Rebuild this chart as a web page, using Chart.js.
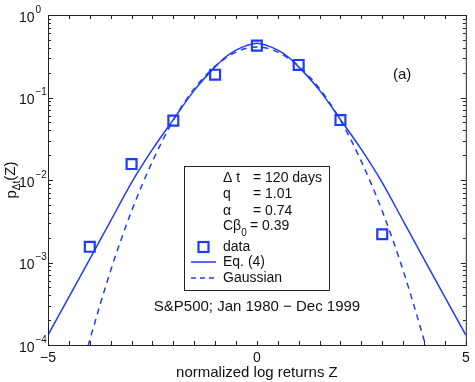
<!DOCTYPE html>
<html>
<head>
<meta charset="utf-8">
<script src="https://cdn.jsdelivr.net/npm/chart.js@4/dist/chart.umd.min.js"></script>
<style>
    html, body { margin: 0; padding: 0; background: #fff; }
    #wrap { position: relative; width: 475px; height: 382px; }
</style>
</head>
<body>
<div id="wrap"><canvas id="chart" width="475" height="382"></canvas></div>
<script>
// data points (squares)
const dataZ = [-4, -3, -2, -1, 0, 1, 2, 3];
const dataP = [1.55e-3, 0.0156, 0.0524, 0.189, 0.425, 0.248, 0.0533, 0.0022];

// Eq. (4) curve
const eqZ = [-5, -4.5, -4, -3.5, -3, -2.5, -2, -1.5, -1, -0.75, -0.5, -0.25, 0,
             0.25, 0.5, 0.75, 1, 1.5, 2, 2.5, 3, 3.5, 4, 4.5, 5];
const eqP = [1.32e-4, 3.8e-4, 1.1e-3, 3.2e-3, 9.3e-3, 0.0235, 0.054, 0.122, 0.235, 0.31, 0.375, 0.425, 0.455,
             0.425, 0.375, 0.31, 0.235, 0.122, 0.054, 0.0235, 9.3e-3, 3.2e-3, 1.1e-3, 3.8e-4, 1.32e-4];

// Gaussian curve
const gaussZ = [-4.25, -4, -3.5, -3, -2.5, -2, -1.5, -1, -0.75, -0.5, -0.25, 0,
                0.25, 0.5, 0.75, 1, 1.5, 2, 2.5, 3, 3.5, 4, 4.25];
const gaussP = [4e-5, 1.15e-4, 8.0e-4, 4.2e-3, 0.0168, 0.053, 0.128, 0.24, 0.30, 0.355, 0.395, 0.41,
                0.395, 0.355, 0.30, 0.24, 0.128, 0.053, 0.0168, 4.2e-3, 8.0e-4, 1.15e-4, 4e-5];

// axis ticks
const xTickLabels = [-5, 0, 5];
const yDecades = [-4, -3, -2, -1, 0];

// text box
const boxLines = [['Δ t', '= 120 days'], ['q', '= 1.01'], ['α', '= 0.74'], ['Cβ', '= 0.39']];
const seriesNames = ['data', 'Eq. (4)', 'Gaussian'];

const BLUE = 'rgb(30, 60, 255)';
const FONT = '"Liberation Sans", Arial, Helvetica, sans-serif';

function toPoints(xs, ys) {
    return xs.map((x, i) => ({ x: x, y: ys[i] }));
}

function minus(v) {
    return String(v).replace('-', '\u2212');
}

// 边框、刻度、文字
const decorPlugin = {
    id: 'decor',
    afterDraw(chart) {
        const ctx = chart.ctx;
        const { left, right, top, bottom } = chart.chartArea;
        const xs = chart.scales.x;
        const ys = chart.scales.y;
        ctx.save();

        // frame
        ctx.strokeStyle = '#222';
        ctx.lineWidth = 1;
        ctx.strokeRect(left + 0.5, top + 0.5, right - left, bottom - top);

        // x ticks, inward, top and bottom
        ctx.beginPath();
        for (let v = -5; v <= 5; v += 0.5) {
            const px = Math.round(xs.getPixelForValue(v)) + 0.5;
            ctx.moveTo(px, bottom); ctx.lineTo(px, bottom - 4);
            ctx.moveTo(px, top); ctx.lineTo(px, top + 4);
        }
        // y ticks, log
        yDecades.forEach(d => {
            for (let k = 1; k <= 9; k++) {
                if (d === 0 && k > 1) break;
                const py = Math.round(ys.getPixelForValue(k * Math.pow(10, d))) + 0.5;
                const len = k === 1 ? 5 : 3;
                ctx.moveTo(left, py); ctx.lineTo(left + len, py);
                ctx.moveTo(right, py); ctx.lineTo(right - len, py);
            }
        });
        ctx.stroke();

        // y tick labels 10^n
        ctx.fillStyle = '#111';
        ctx.textBaseline = 'middle';
        yDecades.forEach(d => {
            const py = ys.getPixelForValue(Math.pow(10, d));
            ctx.font = '14px ' + FONT;
            ctx.textAlign = 'right';
            ctx.fillText('10', 34.5, py + 3);
            ctx.font = '10px ' + FONT;
            ctx.textAlign = 'left';
            ctx.fillText(minus(d), 35.5, py - 5);
        });

        // y title p_Δt(Z)
        ctx.save();
        ctx.translate(13, (top + bottom) / 2);
        ctx.rotate(-Math.PI / 2);
        ctx.textAlign = 'left';
        ctx.font = '15px ' + FONT;
        const wP = ctx.measureText('p').width;
        const wZ = ctx.measureText('(Z)').width;
        ctx.font = '10px ' + FONT;
        const wSub = ctx.measureText('Δt').width;
        let tx = -(wP + wSub + wZ) / 2;
        ctx.font = '15px ' + FONT;
        ctx.fillText('p', tx, -1);
        tx += wP;
        ctx.font = '10px ' + FONT;
        ctx.fillText('Δt', tx, 4);
        tx += wSub;
        ctx.font = '15px ' + FONT;
        ctx.fillText('(Z)', tx, -2);
        ctx.restore();

        // panel label and caption
        ctx.font = '15px ' + FONT;
        ctx.textAlign = 'left';
        ctx.fillText('(a)', 393, 75);
        ctx.textAlign = 'center';
        ctx.fillText('S&P500; Jan 1980 \u2212 Dec 1999', 257, 307);

        // text box with legend
        const bx = 184, by = 166, bw = 145, bh = 124;
        ctx.fillStyle = '#fff';
        ctx.fillRect(bx, by, bw, bh);
        ctx.strokeStyle = '#222';
        ctx.strokeRect(bx + 0.5, by + 0.5, bw, bh);
        ctx.fillStyle = '#111';
        ctx.font = '14px ' + FONT;
        ctx.textAlign = 'left';
        const rowY = [178, 194, 211, 226];
        boxLines.forEach((row, i) => {
            ctx.font = '14px ' + FONT;
            ctx.fillText(row[0], 223, rowY[i]);
            if (i === 3) {
                const w = ctx.measureText(row[0]).width;
                ctx.font = '10px ' + FONT;
                ctx.fillText('0', 223 + w, rowY[i] + 7);
                ctx.font = '14px ' + FONT;
                ctx.fillText(row[1], 250, rowY[i]);
            } else {
                ctx.fillText(row[1], 253, rowY[i]);
            }
        });
        const legY = [247, 262, 278];
        ctx.font = '14px ' + FONT;
        seriesNames.forEach((name, i) => ctx.fillText(name, 223, legY[i]));

        ctx.strokeStyle = BLUE;
        ctx.lineWidth = 2.2;
        ctx.strokeRect(198.5, legY[0] - 5, 10, 10);
        ctx.lineWidth = 1.5;
        ctx.beginPath();
        ctx.moveTo(191, legY[1]); ctx.lineTo(216, legY[1]);
        ctx.stroke();
        ctx.setLineDash([5, 4]);
        ctx.beginPath();
        ctx.moveTo(191, legY[2]); ctx.lineTo(216, legY[2]);
        ctx.stroke();

        ctx.restore();
    }
};

const ctx = document.getElementById('chart').getContext('2d');
const chart = new Chart(ctx, {
    type: 'line',
    data: {
        datasets: [
            {
                label: 'Eq. (4)',
                data: toPoints(eqZ, eqP),
                borderColor: BLUE,
                borderWidth: 1.5,
                pointRadius: 0,
                cubicInterpolationMode: 'monotone',
                fill: false
            },
            {
                label: 'Gaussian',
                data: toPoints(gaussZ, gaussP),
                borderColor: BLUE,
                borderWidth: 1.5,
                borderDash: [6, 5],
                pointRadius: 0,
                cubicInterpolationMode: 'monotone',
                fill: false
            },
            {
                label: 'data',
                data: toPoints(dataZ, dataP),
                showLine: false,
                pointStyle: 'rect',
                pointRadius: 7,
                pointBorderWidth: 2.2,
                pointBorderColor: BLUE,
                pointBackgroundColor: '#fff'
            }
        ]
    },
    options: {
        responsive: false,
        animation: false,
        layout: { padding: { left: 48, right: 8, top: 15, bottom: 0 } },
        plugins: {
            legend: { display: false },
            tooltip: { enabled: false }
        },
        scales: {
            x: {
                type: 'linear',
                position: 'bottom',
                min: -5,
                max: 5,
                grid: { display: false, drawTicks: false },
                border: { display: false },
                ticks: {
                    stepSize: 0.5,
                    autoSkip: false,
                    maxRotation: 0,
                    padding: 5,
                    color: '#111',
                    font: { family: FONT, size: 14 },
                    callback: v => xTickLabels.includes(v) ? minus(v) : ''
                },
                title: {
                    display: true,
                    text: 'normalized log returns Z',
                    color: '#111',
                    font: { family: FONT, size: 15 },
                    padding: { top: 0, bottom: 0 }
                },
                afterFit: s => { s.height = 37; }
            },
            y: {
                type: 'logarithmic',
                min: 1e-4,
                max: 1,
                display: false
            }
        }
    },
    plugins: [decorPlugin]
});
</script>
</body>
</html>
